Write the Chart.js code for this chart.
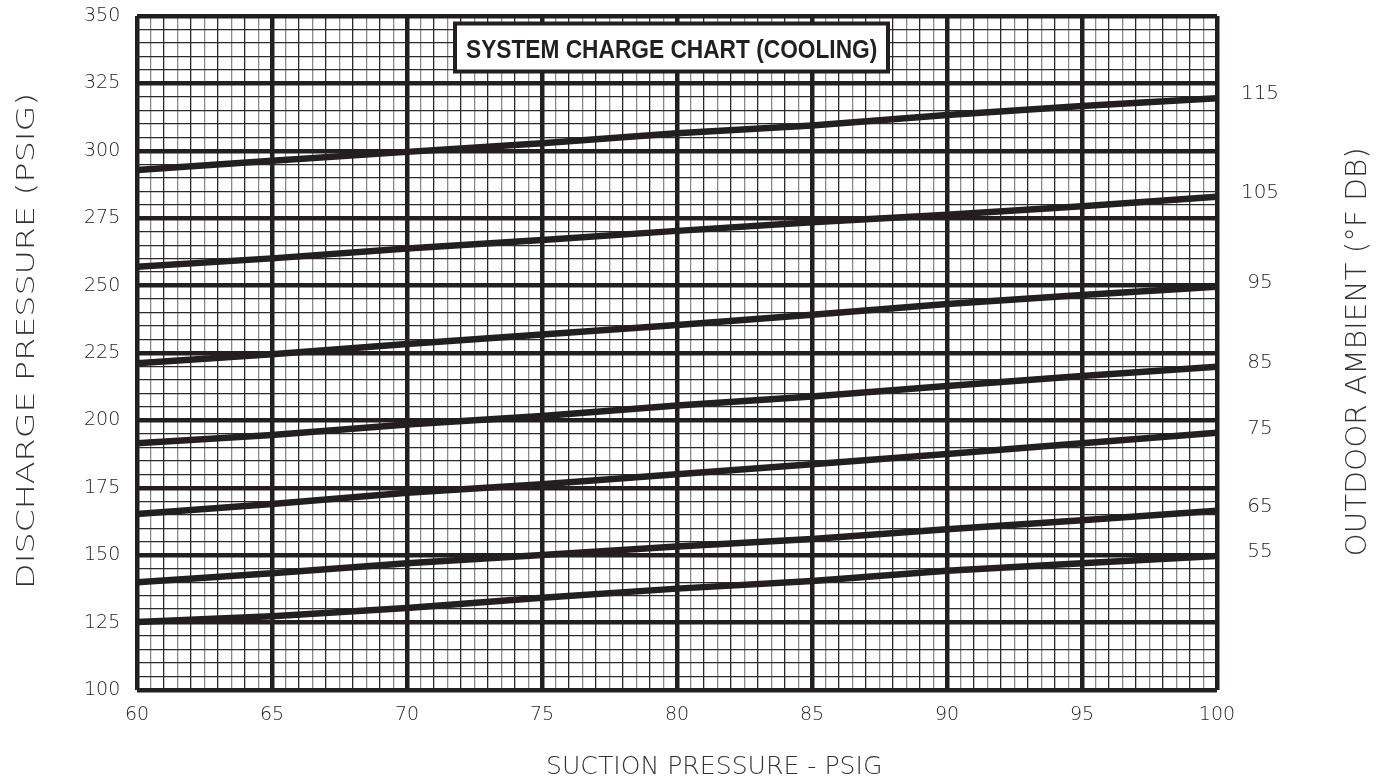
<!DOCTYPE html>
<html>
<head>
<meta charset="utf-8">
<script src="https://cdn.jsdelivr.net/npm/chart.js@4.4.1/dist/chart.umd.min.js"></script>
<style>
  html, body { margin: 0; padding: 0; background: #ffffff; }
  #wrap { width: 1387px; height: 780px; position: relative; }
</style>
</head>
<body>
<div id="wrap"><canvas id="c" width="1387" height="780"></canvas></div>
<script>
// ---- data ----
const suction = [60, 65, 70, 75, 80, 85, 90, 95, 100];
const ambientLabels = ['115', '105', '95', '85', '75', '65', '55'];
const amb115 = [292.9, 296.3, 299.6, 302.8, 306.5, 309.4, 313.3, 316.6, 319.5];
const amb105 = [257.0, 260.1, 263.8, 266.9, 270.3, 273.5, 276.3, 279.4, 283.0];
const amb95  = [221.2, 224.5, 228.3, 231.9, 235.4, 239.2, 243.2, 246.5, 249.6];
const amb85  = [191.5, 194.6, 198.5, 201.6, 205.5, 208.9, 212.8, 216.5, 219.9];
const amb75  = [165.3, 169.0, 173.2, 176.3, 180.0, 183.7, 187.5, 191.5, 195.4];
const amb65  = [140.0, 143.3, 147.0, 150.1, 153.2, 156.0, 159.6, 163.0, 166.5];
const amb55  = [125.2, 127.4, 130.4, 134.2, 137.6, 140.4, 144.2, 147.0, 149.7];
const xTickLabels = ['60', '65', '70', '75', '80', '85', '90', '95', '100'];
const yTickLabels = ['100', '125', '150', '175', '200', '225', '250', '275', '300', '325', '350'];
const chartTitle = 'SYSTEM CHARGE CHART (COOLING)';
const xTitle = 'SUCTION PRESSURE - PSIG';
const yTitle = 'DISCHARGE PRESSURE (PSIG)';
const y2Title = 'OUTDOOR AMBIENT (\u00B0F DB)';

const seriesValues = [amb115, amb105, amb95, amb85, amb75, amb65, amb55];
const INK = '#231f20';
const LIGHT_FONT = '"DejaVu Sans"';

const datasets = seriesValues.map((vals, i) => ({
  label: ambientLabels[i],
  data: suction.map((x, j) => ({ x: x, y: vals[j] })),
  borderColor: INK,
  borderWidth: 6.5,
  pointRadius: 0,
  tension: 0,
  borderCapStyle: 'butt',
  fill: false
}));

function fittedText(ctx, text, cx, cy, rot, font, capTarget, lenTarget, color) {
  ctx.save();
  ctx.font = font;
  const m = ctx.measureText(text);
  const vis = m.actualBoundingBoxLeft + m.actualBoundingBoxRight;
  const sx = lenTarget / vis;
  ctx.translate(cx, cy);
  ctx.rotate(rot);
  ctx.scale(sx, 1);
  ctx.fillStyle = color;
  ctx.textAlign = 'left';
  ctx.textBaseline = 'alphabetic';
  ctx.fillText(text, -vis / 2 + m.actualBoundingBoxLeft, capTarget / 2);
  ctx.restore();
}

const decorPlugin = {
  id: 'decor',
  afterDraw(chart) {
    const ctx = chart.ctx;
    const ys = chart.scales.y;
    // right-hand ambient labels at line ends
    ctx.save();
    ctx.font = '200 20px ' + LIGHT_FONT;
    ctx.fillStyle = '#222222';
    ctx.textAlign = 'center';
    ctx.textBaseline = 'middle';
    seriesValues.forEach((vals, i) => {
      const yy = ys.getPixelForValue(vals[vals.length - 1]) - 4;
      ctx.fillText(ambientLabels[i], 1260, yy);
    });
    ctx.restore();

    // title box
    ctx.save();
    const bx = 455, by = 23.5, bw = 433, bh = 48;
    ctx.fillStyle = '#ffffff';
    ctx.fillRect(bx, by, bw, bh);
    ctx.lineWidth = 4;
    ctx.strokeStyle = INK;
    ctx.strokeRect(bx, by, bw, bh);
    ctx.restore();
    fittedText(ctx, chartTitle, 671.5, 49, 0, 'bold 25px "Liberation Sans"', 18, 411, INK);

    // axis titles
    fittedText(ctx, yTitle, 25, 340, -Math.PI / 2, '200 25px ' + LIGHT_FONT, 18, 490, '#333333');
    fittedText(ctx, y2Title, 1356, 352, -Math.PI / 2, '200 29px ' + LIGHT_FONT, 20, 405, '#333333');
    fittedText(ctx, xTitle, 714, 765, 0, '200 25px ' + LIGHT_FONT, 18, 332, '#333333');
  }
};

new Chart(document.getElementById('c'), {
  type: 'line',
  data: { datasets: datasets },
  options: {
    responsive: false,
    animation: false,
    devicePixelRatio: 1,
    layout: { padding: { left: 84, right: 170, top: 16, bottom: 0 } },
    plugins: { legend: { display: false }, tooltip: { enabled: false }, title: { display: false } },
    scales: {
      x: {
        type: 'linear',
        min: 60, max: 100,
        afterFit(s) { s.height = 90; },
        border: { display: false },
        grid: {
          drawTicks: false,
          color(c) {
            const v = c.tick.value;
            if (Math.abs(v % 5) < 1e-9) return INK;
            return (Math.abs(v % 1) < 1e-9) ? '#2a2a2a' : '#8a8a8a';
          },
          lineWidth(c) {
            const v = c.tick.value;
            return (Math.abs(v % 5) < 1e-9) ? 4.5 : 1.3;
          }
        },
        ticks: {
          stepSize: 0.5,
          autoSkip: false,
          maxRotation: 0,
          padding: 14,
          color: '#222222',
          font: { family: 'DejaVu Sans', size: 19, weight: '200' },
          callback(v) {
            const idx = suction.indexOf(v);
            return idx >= 0 ? xTickLabels[idx] : '';
          }
        }
      },
      y: {
        type: 'linear',
        min: 100, max: 350,
        afterFit(s) { s.width = 53; },
        border: { display: false },
        grid: {
          drawTicks: false,
          color(c) {
            const v = c.tick.value;
            return (Math.abs(v % 25) < 1e-9) ? INK : '#2a2a2a';
          },
          lineWidth(c) {
            const v = c.tick.value;
            return (Math.abs(v % 25) < 1e-9) ? 4.5 : 1.3;
          }
        },
        ticks: {
          stepSize: 5,
          autoSkip: false,
          padding: 0,
          crossAlign: 'far',
          color: '#222222',
          font: { family: 'DejaVu Sans', size: 19, weight: '200' },
          callback(v) {
            if (Math.abs(v % 25) > 1e-9) return '';
            return yTickLabels[Math.round((v - 100) / 25)];
          }
        }
      }
    }
  },
  plugins: [decorPlugin]
});
</script>
</body>
</html>
